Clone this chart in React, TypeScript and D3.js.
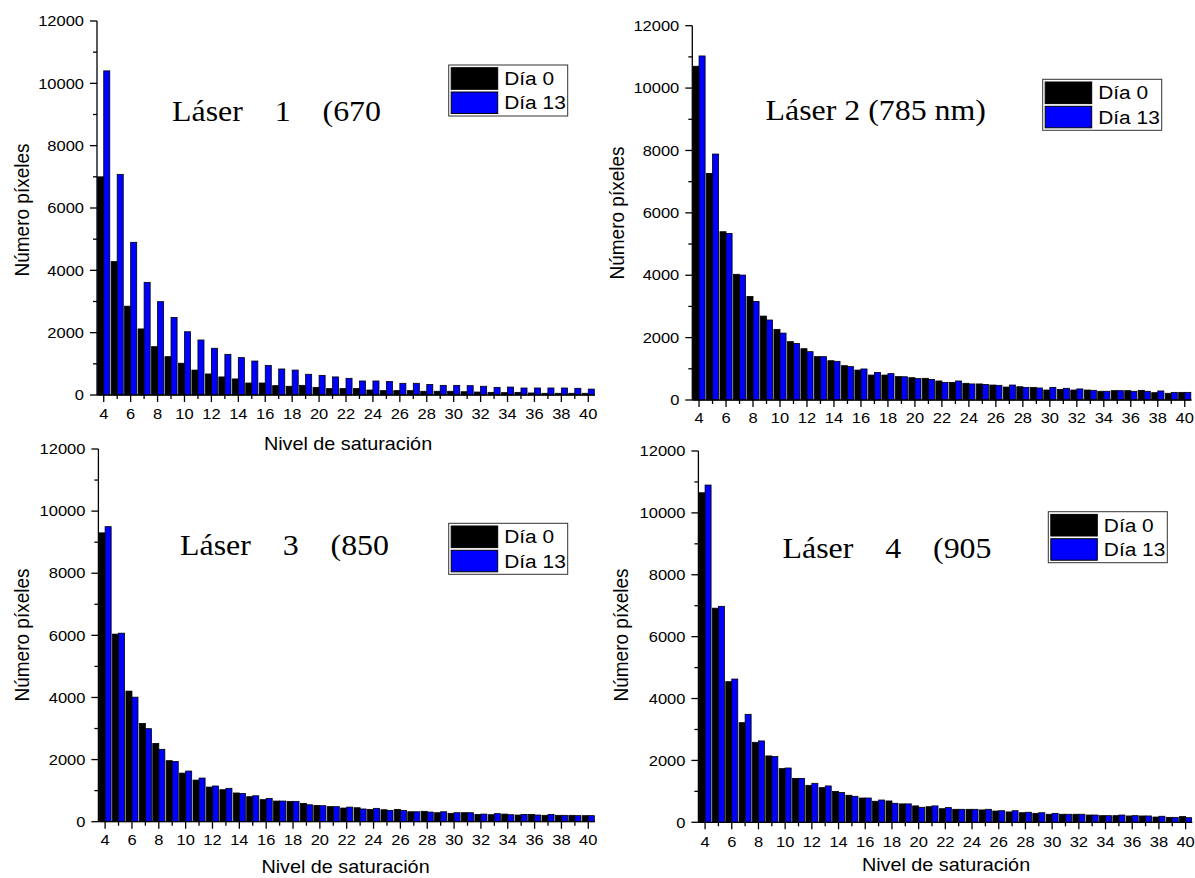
import React from "react";
import * as d3 from "d3";

const CATEGORIES = [4,5,6,7,8,9,10,11,12,13,14,15,16,17,18,19,20,21,22,23,24,25,26,27,28,29,30,31,32,33,34,35,36,37,38,39,40];
const X_TICKS = [4,6,8,10,12,14,16,18,20,22,24,26,28,30,32,34,36,38,40];
const Y_TICKS = [0,2000,4000,6000,8000,10000,12000];
const Y_MINOR = [1000,3000,5000,7000,9000,11000];
const SERIES_NAMES = ["Día 0", "Día 13"];

const L1_DIA0 = [7000,4280,2850,2120,1550,1230,1020,800,675,580,515,385,385,300,280,310,245,205,205,205,160,140,140,140,120,120,120,105,95,85,75,85,65,55,55,55,55];
const L1_DIA13 = [10400,7080,4900,3615,2995,2490,2030,1765,1500,1305,1200,1090,950,835,800,665,630,580,535,450,450,430,375,375,340,310,310,300,280,245,255,225,225,225,225,215,190];

const L2_DIA0 = [10700,7265,5395,4030,3320,2690,2265,1870,1645,1390,1260,1100,960,800,800,750,715,695,610,565,535,515,480,415,425,405,320,340,320,320,280,300,300,310,235,215,245];
const L2_DIA13 = [11030,7885,5340,4005,3160,2565,2145,1815,1550,1390,1240,1070,995,885,845,745,685,660,565,610,515,500,470,480,405,385,405,375,355,310,280,300,280,280,290,245,245];

const L3_DIA0 = [9300,6040,4205,3165,2520,1965,1565,1340,1115,1030,925,805,710,665,655,590,525,485,440,450,395,385,395,320,335,290,270,290,235,225,245,215,235,205,205,205,195];
const L3_DIA13 = [9500,6070,4010,2995,2330,1940,1630,1405,1150,1075,910,835,750,665,655,545,515,485,470,410,430,365,365,320,310,320,290,290,245,260,225,235,215,235,205,195,195];

const L4_DIA0 = [10650,6920,4545,3220,2585,2145,1735,1420,1195,1120,1000,875,785,680,690,595,530,505,440,420,420,400,365,335,310,290,260,260,260,235,215,215,205,205,170,160,185];
const L4_DIA13 = [10900,6980,4630,3490,2630,2125,1755,1420,1260,1175,960,840,785,720,615,595,485,530,475,420,420,420,375,375,325,310,290,260,260,235,215,235,215,205,195,160,150];

const TITLES = ["Láser    1    (670", "Láser 2 (785 nm)", "Láser    3    (850", "Láser    4    (905"];

const SX = 1.1;
const SANS = "'Liberation Sans', Arial, sans-serif";
const SERIF = "'Liberation Serif', 'Times New Roman', serif";
const BLUE = "#0000ff";

function SText({ x, y, size, anchor = "start", family = SANS, rotate = false, children }: any) {
  return (
    <text
      transform={`translate(${x},${y}) scale(${SX},1)${rotate ? " rotate(-90)" : ""}`}
      fontSize={size}
      fontFamily={family}
      textAnchor={anchor}
      dy="0.35em"
      fill="#000"
      style={{ whiteSpace: "pre" }}
    >
      {children}
    </text>
  );
}

const PANELS = [
  { d0: L1_DIA0, d13: L1_DIA13, title: TITLES[0], left: 97, right: 595, top: 21, bottom: 395,
    titleX: 172, titleY: 111, legX: 448.7, legY: 65, yTitleX: 21.7, yTitleY: 210, xTitle: [348, 444], xLab: 19 },
  { d0: L2_DIA0, d13: L2_DIA13, title: TITLES[1], left: 692.3, right: 1191.5, top: 25.7, bottom: 400,
    titleX: 765.5, titleY: 110, legX: 1042.7, legY: 79.3, yTitleX: 616.7, yTitleY: 213, xTitle: null, xLab: 17.5 },
  { d0: L3_DIA0, d13: L3_DIA13, title: TITLES[2], left: 98.4, right: 595, top: 449, bottom: 821.7,
    titleX: 180, titleY: 544.7, legX: 448.7, legY: 523.3, yTitleX: 21.7, yTitleY: 635, xTitle: [345.5, 866.5], xLab: 18.5 },
  { d0: L4_DIA0, d13: L4_DIA13, title: TITLES[3], left: 698.4, right: 1192.3, top: 451, bottom: 822.3,
    titleX: 782.5, titleY: 548, legX: 1048.3, legY: 511.7, yTitleX: 620.7, yTitleY: 635, xTitle: [946, 865], xLab: 19.5 },
];

function Panel({ p }: any) {
  const x = d3.scaleLinear().domain([3.5, 40.5]).range([p.left, p.right]);
  const y = d3.scaleLinear().domain([0, 12000]).range([p.bottom, p.top]);
  const step = x(5) - x(4);
  const bw = step * 0.45;
  const axisW = 1.3;
  return (
    <g>
      {CATEGORIES.map((c, i) => (
        <g key={c}>
          <rect x={x(c) - bw} y={y(p.d0[i])} width={bw} height={y(0) - y(p.d0[i])}
            fill="#000" stroke="#000" strokeWidth={0.8} />
          <rect x={x(c)} y={y(p.d13[i])} width={bw} height={y(0) - y(p.d13[i])}
            fill={BLUE} stroke="#000" strokeWidth={0.8} />
        </g>
      ))}
      <line x1={p.left} x2={p.left} y1={p.top} y2={p.bottom} stroke="#000" strokeWidth={axisW} />
      <line x1={p.left} x2={p.right} y1={p.bottom} y2={p.bottom} stroke="#000" strokeWidth={axisW} />
      {Y_TICKS.map((t) => (
        <g key={"yt" + t}>
          <line x1={p.left - 7} x2={p.left} y1={y(t)} y2={y(t)} stroke="#000" strokeWidth={axisW} />
          <SText x={p.left - 13} y={y(t)} size={15} anchor="end">{String(t)}</SText>
        </g>
      ))}
      {Y_MINOR.map((t) => (
        <line key={"ym" + t} x1={p.left - 4} x2={p.left} y1={y(t)} y2={y(t)} stroke="#000" strokeWidth={axisW} />
      ))}
      {CATEGORIES.map((c) => {
        const major = X_TICKS.indexOf(c) >= 0;
        return (
          <line key={"xt" + c} x1={x(c)} x2={x(c)} y1={p.bottom} y2={p.bottom + (major ? 7 : 4)}
            stroke="#000" strokeWidth={axisW} />
        );
      })}
      {X_TICKS.map((c) => (
        <SText key={"xl" + c} x={x(c)} y={p.bottom + p.xLab} size={15} anchor="middle">{String(c)}</SText>
      ))}
      <SText x={p.yTitleX} y={p.yTitleY} size={19} anchor="middle" rotate>Número píxeles</SText>
      {p.xTitle && (
        <SText x={p.xTitle[0]} y={p.xTitle[1]} size={18} anchor="middle">Nivel de saturación</SText>
      )}
      <SText x={p.titleX} y={p.titleY} size={29} family={SERIF}>{p.title}</SText>
      <g>
        <rect x={p.legX} y={p.legY} width={119} height={51} fill="#fff" stroke="#333" strokeWidth={1} />
        <rect x={p.legX + 2.5} y={p.legY + 2.7} width={46.5} height={21.6} fill="#000" stroke="#000" strokeWidth={1} />
        <rect x={p.legX + 2.5} y={p.legY + 27} width={46.5} height={21.5} fill={BLUE} stroke="#000" strokeWidth={1} />
        <SText x={p.legX + 55.5} y={p.legY + 13.5} size={19}>{SERIES_NAMES[0]}</SText>
        <SText x={p.legX + 55.5} y={p.legY + 37.8} size={19}>{SERIES_NAMES[1]}</SText>
      </g>
    </g>
  );
}

export default function App() {
  return (
    <svg width={1195} height={878} style={{ position: "absolute", left: 0, top: 0, background: "#fff" }}>
      <rect x={0} y={0} width={1195} height={878} fill="#fff" />
      {PANELS.map((p, i) => (
        <Panel key={i} p={p} />
      ))}
    </svg>
  );
}
